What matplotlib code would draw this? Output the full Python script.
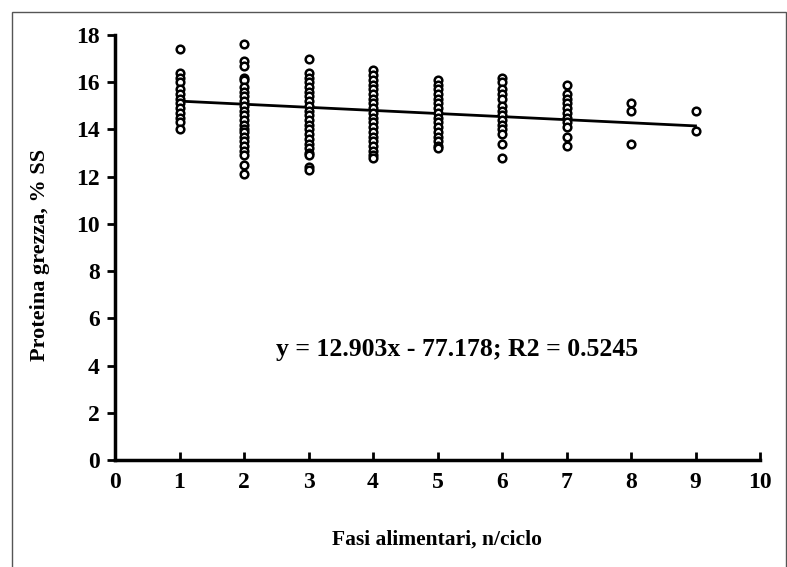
import matplotlib
matplotlib.use("Agg")
import matplotlib.pyplot as plt
from matplotlib.patches import Rectangle

# Data
x1 = [17.4, 16.4, 16.2, 16.0, 15.7, 15.5, 15.3, 15.1, 14.9, 14.7, 14.5, 14.3, 14.0]
x2 = [17.6, 16.9, 16.7, 16.2, 16.1, 15.8, 15.6, 15.4, 15.2, 15.0, 14.8, 14.6, 14.4,
      14.2, 14.0, 13.9, 13.7, 13.5, 13.3, 13.1, 12.9, 12.5, 12.1]
x3 = [17.0, 16.4, 16.2, 16.0, 15.8, 15.6, 15.4, 15.2, 15.0, 14.8, 14.6, 14.4, 14.2,
      14.0, 13.8, 13.6, 13.4, 13.2, 13.0, 12.9, 12.4, 12.3]
x4 = [16.5, 16.3, 16.1, 15.9, 15.7, 15.5, 15.3, 15.1, 14.9, 14.7, 14.5, 14.3, 14.1,
      13.9, 13.7, 13.5, 13.3, 13.1, 12.9, 12.8]
x5 = [16.1, 15.9, 15.7, 15.5, 15.3, 15.1, 14.9, 14.7, 14.5, 14.3, 14.1, 13.9, 13.7,
      13.5, 13.3, 13.2]
x6 = [16.2, 16.0, 15.7, 15.5, 15.3, 15.0, 14.8, 14.6, 14.4, 14.2, 14.0, 13.8, 13.4, 12.8]
x7 = [15.9, 15.5, 15.3, 15.1, 14.9, 14.7, 14.5, 14.3, 14.1, 13.7, 13.3]
x8 = [15.1, 14.8, 13.4]
x9 = [14.8, 13.95]
groups = {1: x1, 2: x2, 3: x3, 4: x4, 5: x5, 6: x6, 7: x7, 8: x8, 9: x9}

trend_x = [1, 9]
trend_y = [15.2, 14.15]

equation = "y = 12.903x - 77.178; R2 = 0.5245"
xlabel = "Fasi alimentari, n/ciclo"
ylabel = "Proteina grezza, % SS"

plt.rcParams['font.family'] = ['Liberation Serif', 'DejaVu Serif']
plt.rcParams['font.weight'] = 'bold'

fig = plt.figure(figsize=(7.87, 5.67), dpi=100)
ax = fig.add_axes([115/787, 1-460/567, (760-115)/787, (460-35)/567])

for xv, ys in groups.items():
    ax.plot([xv]*len(ys), ys, linestyle='none', marker='o', markersize=5.5,
            markerfacecolor='white', markeredgecolor='black', markeredgewidth=1.8,
            zorder=3)

ax.plot(trend_x, trend_y, color='black', linewidth=2, zorder=2)

ax.set_xlim(0, 10)
ax.set_ylim(0, 18)
ax.set_xticks(range(0, 11))
ax.set_yticks(range(0, 19, 2))

for s in ['top', 'right']:
    ax.spines[s].set_visible(False)
for s in ['left', 'bottom']:
    ax.spines[s].set_linewidth(2.5)
ax.tick_params(axis='x', direction='in', length=6, width=2, pad=9, labelsize=17)
ax.tick_params(axis='y', direction='out', length=6, width=2, pad=5, labelsize=17)
for lab in ax.get_xticklabels() + ax.get_yticklabels():
    lab.set_fontweight('bold')

ax.text(5.3, 4.66, equation, ha='center', va='center', fontsize=18.5, fontweight='bold')

fig.text(437/787, 1-540/567, xlabel, ha='center', va='center', fontsize=15.5, fontweight='bold')
fig.text(40/787, 1-255/567, ylabel, ha='center', va='center', rotation=90,
         fontsize=16, fontweight='bold')

fig.patches.append(Rectangle((12/787, -0.01), 1 - 12/787 - 1/787, 1 - 12/567 + 0.01,
                             transform=fig.transFigure, fill=False,
                             edgecolor='#555555', linewidth=1))

fig.savefig("out.png", dpi=100)
